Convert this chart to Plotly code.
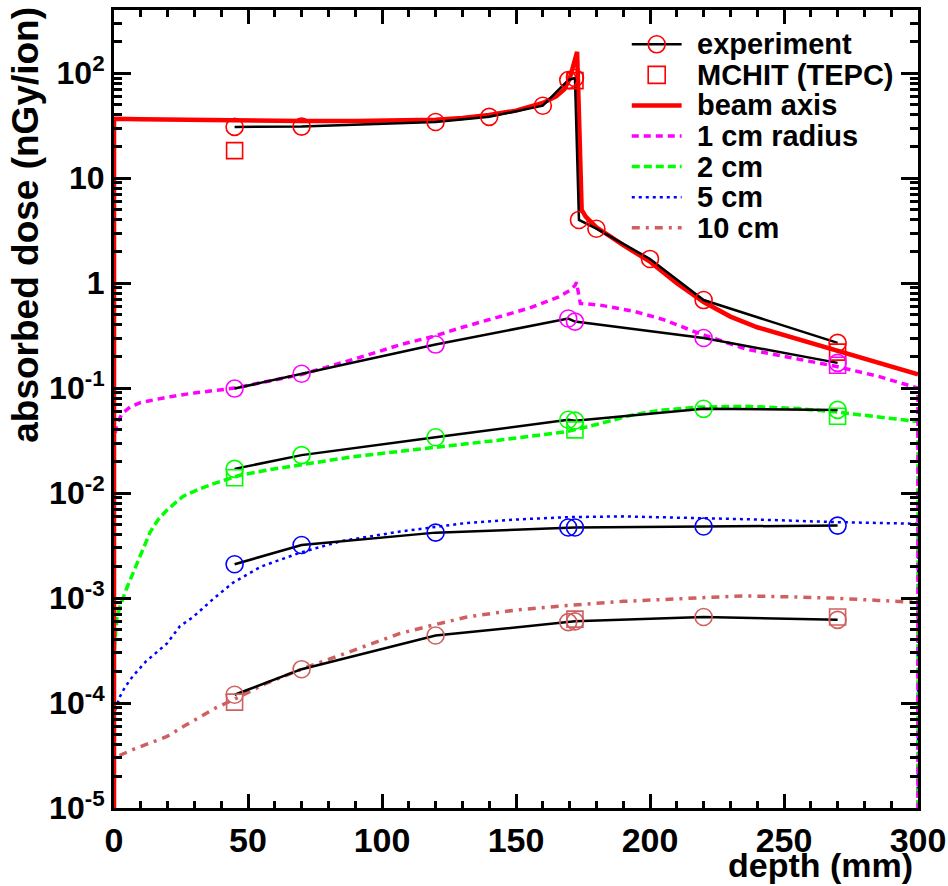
import plotly.graph_objects as go

# ---- measured depth-dose values (nGy per ion) ----
# experiment: ionisation chamber readings along the beam axis
exp_axis_depth = [45, 70, 120, 140, 160, 169.5, 172, 173.5, 180, 200, 220, 270]
exp_axis_dose = [30.8, 31, 34.3, 38.4, 49, 86, 90, 4.0, 3.3, 1.7, 0.69, 0.27]

# experiment: off-axis positions
exp_off_depth = [45, 70, 120, 169.5, 172, 220, 270]
exp_r1 = [0.099, 0.137, 0.26, 0.46, 0.43, 0.30, 0.174]
exp_r2 = [0.017, 0.023, 0.034, 0.050, 0.049, 0.0635, 0.062]
exp_r5 = [2.1e-3, 3.2e-3, 4.2e-3, 4.7e-3, 4.7e-3, 4.8e-3, 4.9e-3]
exp_r10 = [1.2e-4, 2.1e-4, 4.4e-4, 5.9e-4, 6.0e-4, 6.6e-4, 6.2e-4]

# MCHIT scoring in TEPC geometry
tepc_axis_depth = [45, 172, 270]
tepc_axis_dose = [18.3, 85, 0.22]
tepc_r1_depth = [270]
tepc_r1_dose = [0.165]
tepc_r2_depth = [45, 172, 270]
tepc_r2_dose = [0.014, 0.040, 0.054]
tepc_r10_depth = [45, 172, 270]
tepc_r10_dose = [1.02e-4, 6.3e-4, 6.6e-4]

# MCHIT simulated profiles (histogram bins are empty before 0 mm / after 300 mm)
beam_depth = [0, 0.01, 10, 20, 30, 45, 60, 70, 90, 110, 120, 130, 140, 150, 155, 160,
              165, 168, 170, 171, 172, 172.8, 173.5, 174.5, 176, 180, 185, 190, 200,
              210, 220, 230, 240, 250, 260, 270, 280, 290, 300]
beam_dose = [1e-6, 36.8, 36.5, 36.2, 36, 35.6, 35.2, 35, 35, 35.5, 36, 37.5, 40, 44,
             47.5, 52, 60, 70, 88, 110, 140, 160, 40, 5.0, 4.3, 3.4, 2.8, 2.3, 1.6,
             1.0, 0.66, 0.48, 0.38, 0.32, 0.27, 0.23, 0.19, 0.16, 0.135]

r1_depth = [0, 0.01, 1, 3, 6, 10, 20, 30, 45, 60, 70, 90, 107, 119, 130, 144, 155,
            166, 170, 172, 172.6, 173.5, 174, 181, 194, 205, 218.6, 236, 250, 270,
            285, 299.99, 300]
r1_dose = [1e-6, 0.032, 0.045, 0.057, 0.066, 0.073, 0.082, 0.09, 0.10, 0.12, 0.135,
           0.19, 0.26, 0.31, 0.38, 0.48, 0.58, 0.74, 0.85, 0.95, 1.02, 0.75, 0.64,
           0.62, 0.54, 0.45, 0.33, 0.235, 0.20, 0.16, 0.13, 0.10, 1e-6]

r2_depth = [0, 0.01, 1.1, 2.2, 4.5, 7.1, 10, 13.4, 16.5, 19.8, 25.7, 32, 38.4, 47, 58,
            69.4, 88, 106.7, 125, 144, 160, 169, 180, 194, 205, 218.6, 236, 255, 270,
            285, 299.99, 300]
r2_dose = [1e-6, 3e-4, 6.5e-4, 8.3e-4, 1.2e-3, 1.7e-3, 2.6e-3, 4.2e-3, 5.6e-3, 6.9e-3,
           9.3e-3, 0.011, 0.0126, 0.0148, 0.0167, 0.0185, 0.022, 0.025, 0.028, 0.032,
           0.036, 0.0385, 0.045, 0.056, 0.062, 0.066, 0.067, 0.064, 0.059, 0.053,
           0.048, 1e-6]

r5_depth = [0, 0.01, 2.2, 4, 7, 12, 19.8, 24.6, 29.5, 37, 44.4, 55, 69.4, 85, 106.7,
            131.7, 150, 169, 190, 218.6, 240, 268, 299.99, 300]
r5_dose = [1e-6, 8e-5, 1.15e-4, 1.4e-4, 1.8e-4, 2.5e-4, 3.7e-4, 5.4e-4, 6.6e-4, 9.8e-4,
           1.4e-3, 2.0e-3, 2.7e-3, 3.5e-3, 4.3e-3, 5.2e-3, 5.6e-3, 5.9e-3, 6.0e-3,
           5.8e-3, 5.6e-3, 5.3e-3, 5.1e-3, 1e-6]

r10_depth = [0, 0.01, 7, 13, 19.8, 26, 32, 38, 44.4, 57, 70, 85, 106.7, 120, 131.7, 150,
             169, 190, 218.6, 235, 250, 268, 285, 299.99, 300]
r10_dose = [1e-6, 3.0e-5, 3.6e-5, 4.1e-5, 4.8e-5, 6.0e-5, 7.4e-5, 9.0e-5, 1.07e-4,
            1.55e-4, 2.1e-4, 2.9e-4, 4.6e-4, 5.6e-4, 6.6e-4, 7.7e-4, 8.5e-4, 9.3e-4,
            1.0e-3, 1.05e-3, 1.03e-3, 1.0e-3, 9.5e-4, 9.1e-4, 1e-6]

x_ticks = [0, 50, 100, 150, 200, 250, 300]
y_ticks = [1e-5, 1e-4, 1e-3, 1e-2, 1e-1, 1, 10, 100]
y_ticktext = ["10<sup>-5</sup>", "10<sup>-4</sup>", "10<sup>-3</sup>", "10<sup>-2</sup>",
              "10<sup>-1</sup>", "1", "10", "10<sup>2</sup>"]

# ---- styling ----
FONT = "Liberation Sans, Arial, Helvetica, sans-serif"
RED = "#ff0000"
MAGENTA = "#ff00ff"
GREEN = "#00ff00"
BLUE = "#0000ff"
ROSE = "#d06060"

styles = {
    "beam": dict(color=RED, width=4.5, dash="solid"),
    "r1": dict(color=MAGENTA, width=3.5, dash="7px,5px"),
    "r2": dict(color=GREEN, width=3.5, dash="8px,4px"),
    "r5": dict(color=BLUE, width=2.5, dash="3px,4px"),
    "r10": dict(color=ROSE, width=3.5, dash="8px,6px,3px,6px"),
}

fig = go.Figure()

# simulated profiles
for depth, dose, key in [(r10_depth, r10_dose, "r10"), (r5_depth, r5_dose, "r5"),
                         (r2_depth, r2_dose, "r2"), (r1_depth, r1_dose, "r1"),
                         (beam_depth, beam_dose, "beam")]:
    fig.add_trace(go.Scatter(x=depth, y=dose, mode="lines", line=styles[key],
                             showlegend=False, hoverinfo="skip"))

# measured points joined by black lines
for depth, dose, col in [(exp_axis_depth, exp_axis_dose, RED),
                         (exp_off_depth, exp_r1, MAGENTA),
                         (exp_off_depth, exp_r2, GREEN),
                         (exp_off_depth, exp_r5, BLUE),
                         (exp_off_depth, exp_r10, ROSE)]:
    fig.add_trace(go.Scatter(
        x=depth, y=dose, mode="lines+markers",
        line=dict(color="black", width=2.5),
        marker=dict(symbol="circle-open", size=17, color=col, line=dict(width=1.6, color=col)),
        showlegend=False))

# TEPC squares
for depth, dose, col in [(tepc_axis_depth, tepc_axis_dose, RED),
                         (tepc_r1_depth, tepc_r1_dose, MAGENTA),
                         (tepc_r2_depth, tepc_r2_dose, GREEN),
                         (tepc_r10_depth, tepc_r10_dose, ROSE)]:
    fig.add_trace(go.Scatter(
        x=depth, y=dose, mode="markers",
        marker=dict(symbol="square-open", size=16, color=col, line=dict(width=1.6, color=col)),
        showlegend=False))

# ---- legend drawn on an overlay axis in plot-fraction units ----
legend_rows = [
    ("experiment", dict(color="black", width=2.5), dict(symbol="circle-open", color=RED)),
    ("MCHIT (TEPC)", None, dict(symbol="square-open", color=RED)),
    ("beam axis", styles["beam"], None),
    ("1 cm radius", styles["r1"], None),
    ("2 cm", styles["r2"], None),
    ("5 cm", styles["r5"], None),
    ("10 cm", styles["r10"], None),
]
row_top, row_step = 0.957, 0.0383
sample_x0, sample_x1, text_x = 0.644, 0.706, 0.723
for i, (label, line, marker) in enumerate(legend_rows):
    yy = row_top - i * row_step
    if line is not None:
        fig.add_trace(go.Scatter(x=[sample_x0, sample_x1], y=[yy, yy], mode="lines",
                                 line=line, xaxis="x2", yaxis="y2",
                                 showlegend=False, hoverinfo="skip"))
    if marker is not None:
        fig.add_trace(go.Scatter(
            x=[(sample_x0 + sample_x1) / 2], y=[yy], mode="markers",
            marker=dict(symbol=marker["symbol"], size=17, color=marker["color"],
                        line=dict(width=1.6, color=marker["color"])),
            xaxis="x2", yaxis="y2", showlegend=False, hoverinfo="skip"))
    fig.add_annotation(text=label, x=text_x, y=yy, xref="paper", yref="paper",
                       xanchor="left", yanchor="middle", showarrow=False,
                       font=dict(family=FONT, size=29, color="black", weight="bold"))

# axis titles, aligned at the far ends of the axes
fig.add_annotation(text="depth (mm)", x=0.996, y=-0.072, xref="paper", yref="paper",
                   xanchor="right", yanchor="middle", showarrow=False,
                   font=dict(family=FONT, size=34, color="black", weight="bold"))
fig.add_annotation(text="absorbed dose (nGy/ion)", x=-0.11, y=1.006, xref="paper",
                   yref="paper", xanchor="center", yanchor="top", textangle=-90,
                   showarrow=False,
                   font=dict(family=FONT, size=37, color="black", weight="bold"))

minor_y = [k * 10.0 ** d for d in range(-5, 3) for k in range(2, 10)]

fig.update_layout(
    width=948, height=886,
    margin=dict(l=114, r=30, t=10, b=78),
    paper_bgcolor="white", plot_bgcolor="white",
    showlegend=False,
    xaxis=dict(
        range=[0, 300], tickmode="array", tickvals=x_ticks, automargin=False,
        ticks="inside", ticklen=14, tickwidth=3, tickcolor="black",
        showline=True, linewidth=3, linecolor="black", mirror="allticks",
        showgrid=False, zeroline=False,
        tickfont=dict(family=FONT, size=34, color="black", weight="bold"),
        minor=dict(dtick=10, tick0=0, ticks="inside", ticklen=7, tickwidth=2.5,
                   tickcolor="black", showgrid=False),
    ),
    yaxis=dict(
        type="log", range=[-5, 2.602], tickmode="array", tickvals=y_ticks,
        ticktext=y_ticktext, automargin=False,
        ticks="inside", ticklen=17, tickwidth=3, tickcolor="black",
        showline=True, linewidth=3, linecolor="black", mirror="allticks",
        showgrid=False, zeroline=False,
        tickfont=dict(family=FONT, size=32, color="black", weight="bold"),
        minor=dict(tickmode="array", tickvals=minor_y, ticks="inside", ticklen=8,
                   tickwidth=2.5, tickcolor="black", showgrid=False),
    ),
    xaxis2=dict(range=[0, 1], overlaying="x", anchor="y2", visible=False),
    yaxis2=dict(range=[0, 1], overlaying="y", anchor="x2", visible=False),
)

fig.write_html("out.html")
